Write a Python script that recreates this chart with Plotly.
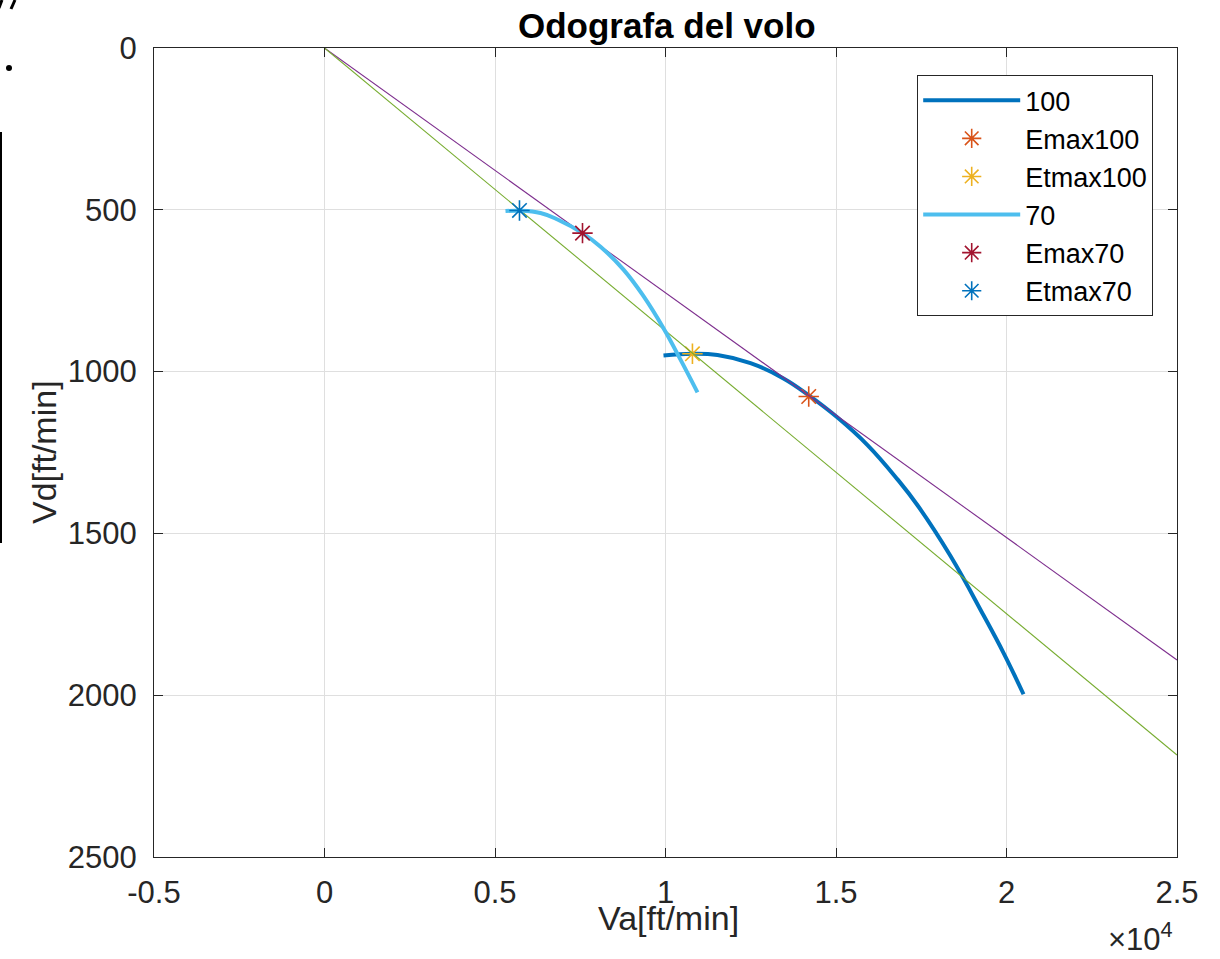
import plotly.graph_objects as go

# ---- data (ft/min) ----
va_100 = [9941, 10792, 11525, 12493, 13460, 14223, 15044, 15924, 16804, 17390, 18358, 19326, 19912, 20499]
vd_100 = [950, 945, 949, 974, 1021, 1075, 1142, 1227, 1333, 1413, 1570, 1753, 1869, 1997]

va_70 = [5308, 5718, 6334, 6833, 7566, 8094, 8768, 9355, 9941, 10440, 10938]
vd_70 = [504, 503, 510, 530, 572, 614, 685, 767, 866, 963, 1064]

emax100 = (14200, 1077)
etmax100 = (10790, 945)
emax70 = (7566, 572)
etmax70 = (5718, 502)

tan_emax_va = [0, 25000]
tan_emax_vd = [0, 1891]
tan_etmax_va = [0, 25000]
tan_etmax_vd = [0, 2185]

x_tickvals = [-5000, 0, 5000, 10000, 15000, 20000, 25000]
x_ticktext = ["-0.5", "0", "0.5", "1", "1.5", "2", "2.5"]
y_tickvals = [0, 500, 1000, 1500, 2000, 2500]

FONT = "Liberation Sans, Arial, sans-serif"
TXT = "#262626"

fig = go.Figure()

def star(name, pt, color):
    fig.add_trace(go.Scatter(
        x=[pt[0]], y=[pt[1]], mode="markers", name=name,
        marker=dict(symbol="asterisk-open", size=17, color=color,
                    line=dict(color=color, width=1.6))))

fig.add_trace(go.Scatter(x=va_100, y=vd_100, mode="lines", name="100",
                         line=dict(color="#0072BD", width=4, shape="spline", smoothing=1.2)))
star("Emax100", emax100, "#D95319")
star("Etmax100", etmax100, "#EDB120")
fig.add_trace(go.Scatter(x=tan_emax_va, y=tan_emax_vd, mode="lines", showlegend=False,
                         line=dict(color="#7E2F8E", width=1.1)))
fig.add_trace(go.Scatter(x=tan_etmax_va, y=tan_etmax_vd, mode="lines", showlegend=False,
                         line=dict(color="#77AC30", width=1.1)))
fig.add_trace(go.Scatter(x=va_70, y=vd_70, mode="lines", name="70",
                         line=dict(color="#4DBEEE", width=4, shape="spline", smoothing=1.2)))
star("Emax70", emax70, "#A2142F")
star("Etmax70", etmax70, "#0072BD")

L, R, T, B = 154, 1177, 48, 857
W, H = 1220, 959

def px(xp):
    return (xp - L) / (R - L)

def py(yp):
    return (B - yp) / (B - T)

axis_common = dict(showgrid=True, gridcolor="#DFDFDF", gridwidth=1,
                   showline=True, linecolor=TXT, linewidth=1.2, mirror="ticks",
                   ticks="inside", ticklen=9, tickcolor=TXT, tickwidth=1,
                   tickfont=dict(family=FONT, size=31, color=TXT),
                   zeroline=False)

fig.update_xaxes(range=[-5000, 25000], tickvals=x_tickvals, ticktext=x_ticktext,
                 ticklabelstandoff=8, **axis_common)
fig.update_yaxes(range=[2500, 0], tickvals=y_tickvals,
                 ticklabelstandoff=10, **axis_common)

annotations = [
    dict(text="<b>Odografa del volo</b>", x=px(667), y=py(25), xref="paper", yref="paper",
         showarrow=False, font=dict(family=FONT, size=35, color="black"),
         xanchor="center", yanchor="middle"),
    dict(text="Va[ft/min]", x=px(668), y=py(918), xref="paper", yref="paper",
         showarrow=False, font=dict(family=FONT, size=34, color=TXT),
         xanchor="center", yanchor="middle"),
    dict(text="Vd[ft/min]", x=px(44), y=py(452), xref="paper", yref="paper",
         showarrow=False, textangle=-90, font=dict(family=FONT, size=34, color=TXT),
         xanchor="center", yanchor="middle"),
    dict(text="\u00d710<sup>4</sup>", x=px(1140), y=py(937), xref="paper", yref="paper",
         showarrow=False, font=dict(family=FONT, size=31, color=TXT),
         xanchor="center", yanchor="middle"),
]

shapes = [
    dict(type="line", xref="paper", yref="paper", x0=px(1), x1=px(1), y0=py(132), y1=py(543),
         line=dict(color="black", width=2)),
    dict(type="circle", xref="paper", yref="paper", x0=px(6), x1=px(12), y0=py(71), y1=py(65),
         fillcolor="black", line=dict(color="black", width=0)),
    dict(type="line", xref="paper", yref="paper", x0=px(2), x1=px(-1), y0=py(0), y1=py(8),
         line=dict(color="black", width=3)),
    dict(type="line", xref="paper", yref="paper", x0=px(15), x1=px(11), y0=py(0), y1=py(9),
         line=dict(color="black", width=3)),
]

fig.update_layout(
    width=W, height=H,
    margin=dict(l=L, r=W - R, t=T, b=H - B, autoexpand=False),
    paper_bgcolor="white", plot_bgcolor="white",
    font=dict(family=FONT, color=TXT),
    legend=dict(x=px(1153), y=py(75), xanchor="right", yanchor="top",
                bgcolor="white", bordercolor=TXT, borderwidth=1.2,
                font=dict(family=FONT, size=27, color="black"),
                tracegroupgap=0, itemwidth=97),
    annotations=annotations,
    shapes=shapes,
)

fig.write_html("out.html", config={"displayModeBar": False},
               post_script="document.body.style.margin='0px';")
